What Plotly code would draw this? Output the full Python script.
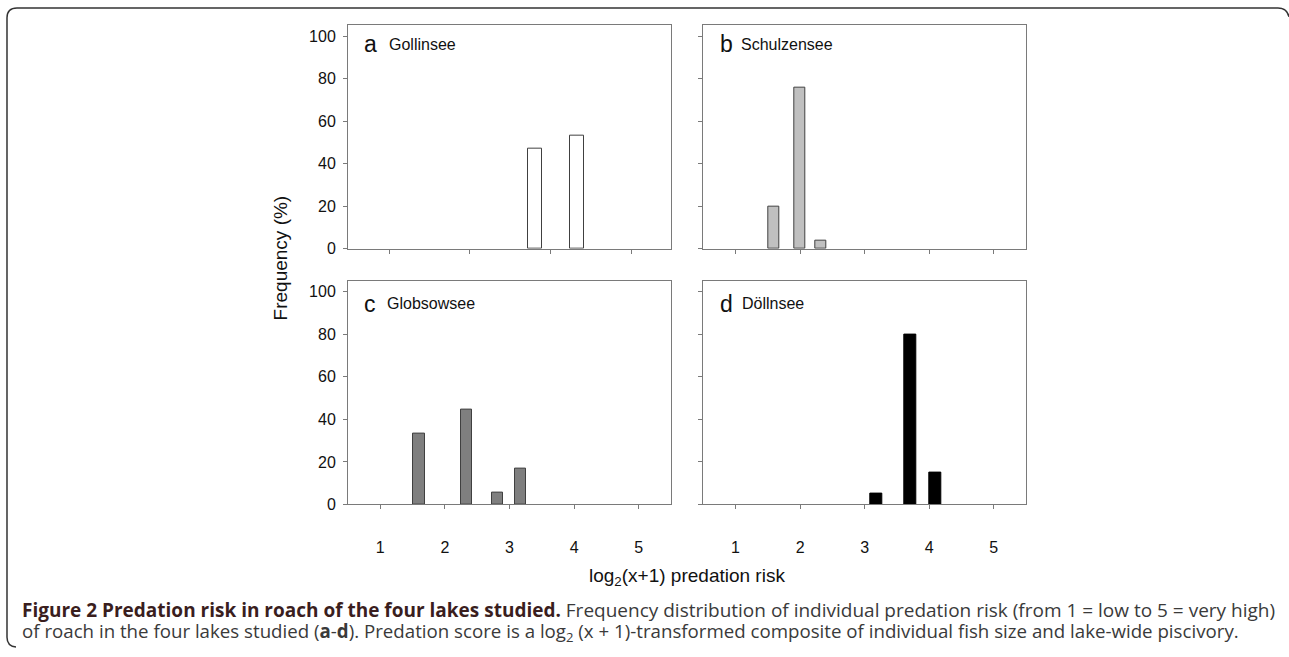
import plotly.graph_objects as go

W, H = 1289, 657

# ---- data ----
a_x = [2.81, 3.32]
a_y = [47, 53]
b_x = [1.59, 2.0, 2.32]
b_y = [20, 76, 4]
c_x = [1.60, 2.33, 2.81, 3.17]
c_y = [33.3, 44.4, 5.6, 16.7]
d_x = [3.18, 3.70, 4.09]
d_y = [5, 80, 15]

y_ticks = [0, 20, 40, 60, 80, 100]
a_xticks = [1, 2, 3, 4]
x_ticks = [1, 2, 3, 4, 5]

panel_letters = ["a", "b", "c", "d"]
lake_names = ["Gollinsee", "Schulzensee", "Globsowsee", "Döllnsee"]

def fx(p):
    return p / W

def fy(p):
    return 1 - p / H

fig = go.Figure()
line_col = "#404040"
fig.add_trace(go.Bar(x=a_x, y=a_y, width=0.174, marker=dict(color="white", line=dict(color=line_col, width=1)),
                     xaxis="x", yaxis="y", showlegend=False))
fig.add_trace(go.Bar(x=b_x, y=b_y, width=0.175, marker=dict(color="#c0c0c0", line=dict(color=line_col, width=1)),
                     xaxis="x2", yaxis="y2", showlegend=False))
fig.add_trace(go.Bar(x=c_x, y=c_y, width=0.175, marker=dict(color="#7f7f7f", line=dict(color=line_col, width=1)),
                     xaxis="x3", yaxis="y3", showlegend=False))
fig.add_trace(go.Bar(x=d_x, y=d_y, width=0.185, marker=dict(color="black", line=dict(color="black", width=1)),
                     xaxis="x4", yaxis="y4", showlegend=False))

axis_common = dict(showline=True, mirror=True, linecolor="#7a7a7a", linewidth=1, showgrid=False,
                   zeroline=False, ticks="outside", ticklen=4, tickcolor="#7a7a7a", tickwidth=1,
                   tickfont=dict(family="Liberation Sans, Arial", size=16, color="#111"))

top_y = [fy(252.3), fy(25)]
bot_y = [fy(511.4), fy(284.5)]
left_x = [fx(348), fx(671)]
right_x = [fx(703.3), fx(1026)]

layout = dict(
    width=W, height=H, margin=dict(l=0, r=0, t=0, b=0),
    paper_bgcolor="white", plot_bgcolor="white", bargap=0,
    xaxis=dict(domain=left_x, range=[0.49, 4.49], tickvals=a_xticks, showticklabels=False, anchor="y", **axis_common),
    yaxis=dict(domain=top_y, range=[0, 105.4], tickvals=y_ticks, anchor="x", ticklabelstandoff=4, **axis_common),
    xaxis2=dict(domain=right_x, range=[0.5, 5.5], tickvals=x_ticks, showticklabels=False, anchor="y2", **axis_common),
    yaxis2=dict(domain=top_y, range=[0, 105.4], tickvals=y_ticks, showticklabels=False, anchor="x2", **axis_common),
    xaxis3=dict(domain=left_x, range=[0.5, 5.5], tickvals=x_ticks, anchor="y3", ticklabelstandoff=24, **axis_common),
    yaxis3=dict(domain=bot_y, range=[0, 105.3], tickvals=y_ticks, anchor="x3", ticklabelstandoff=4, **axis_common),
    xaxis4=dict(domain=right_x, range=[0.5, 5.5], tickvals=x_ticks, anchor="y4", ticklabelstandoff=24, **axis_common),
    yaxis4=dict(domain=bot_y, range=[0, 105.3], tickvals=y_ticks, showticklabels=False, anchor="x4", **axis_common),
)
fig.update_layout(**layout)

ann = []
letter_pos = [(362, 45), (718, 45), (362, 308), (718, 308)]
name_pos = [(387, 45), (739, 45), (385, 308), (740, 308)]
for (lx, ly), (nx, ny), l, n in zip(letter_pos, name_pos, panel_letters, lake_names):
    ann.append(dict(x=fx(lx), y=fy(ly), xref="paper", yref="paper", text=l, showarrow=False,
                    xanchor="left", yanchor="middle", font=dict(family="Liberation Sans, Arial", size=23, color="#111")))
    ann.append(dict(x=fx(nx), y=fy(ny), xref="paper", yref="paper", text=n, showarrow=False,
                    xanchor="left", yanchor="middle", font=dict(family="Liberation Sans, Arial", size=16, color="#111")))

ann.append(dict(x=fx(280), y=fy(262), xref="paper", yref="paper", text="Frequency (%)", textangle=-90,
                showarrow=False, xanchor="center", yanchor="middle",
                font=dict(family="Liberation Sans, Arial", size=19, color="#111")))
ann.append(dict(x=fx(687), y=fy(585), xref="paper", yref="paper", text="log<sub>2</sub>(x+1) predation risk",
                showarrow=False, xanchor="center", yanchor="middle",
                font=dict(family="Liberation Sans, Arial", size=19, color="#111")))

cap_font1 = dict(family="Open Sans", size=19, color="#3a3a3a")
cap_font2 = dict(family="Open Sans", size=18.7, color="#3a3a3a")
line1 = ("<b><span style='color:#3a1e1e'>Figure 2 Predation risk in roach of the four lakes studied.</span></b> "
         "Frequency distribution of individual predation risk (from 1 = low to 5 = very high)")
line2 = ("of roach in the four lakes studied (<b>a</b>-<b>d</b>). Predation score is a log<sub>2</sub> (x + 1)-transformed "
         "composite of individual fish size and lake-wide piscivory.")
ann.append(dict(x=fx(20), y=fy(618), xref="paper", yref="paper", text=line1, showarrow=False,
                xanchor="left", yanchor="middle", font=cap_font1))
ann.append(dict(x=fx(20), y=fy(641), xref="paper", yref="paper", text=line2, showarrow=False,
                xanchor="left", yanchor="middle", font=cap_font2))
fig.update_layout(annotations=ann)

# figure frame (rounded box)
def P(x, y):
    return f"{fx(x):.5f},{fy(y):.5f}"

path = (f"M {P(1289, 17)} Q {P(1287, 8)} {P(1278, 8)} L {P(17, 8)} Q {P(7, 8)} {P(7, 18)} "
        f"L {P(7, 646)} Q {P(7, 655)} {P(16, 656)}")
fig.add_shape(type="path", path=path, xref="paper", yref="paper", line=dict(color="#333", width=1.5))

fig.write_html("out.html", config={"displayModeBar": False},
               post_script="document.body.style.margin='0px';document.body.style.overflow='hidden';")
